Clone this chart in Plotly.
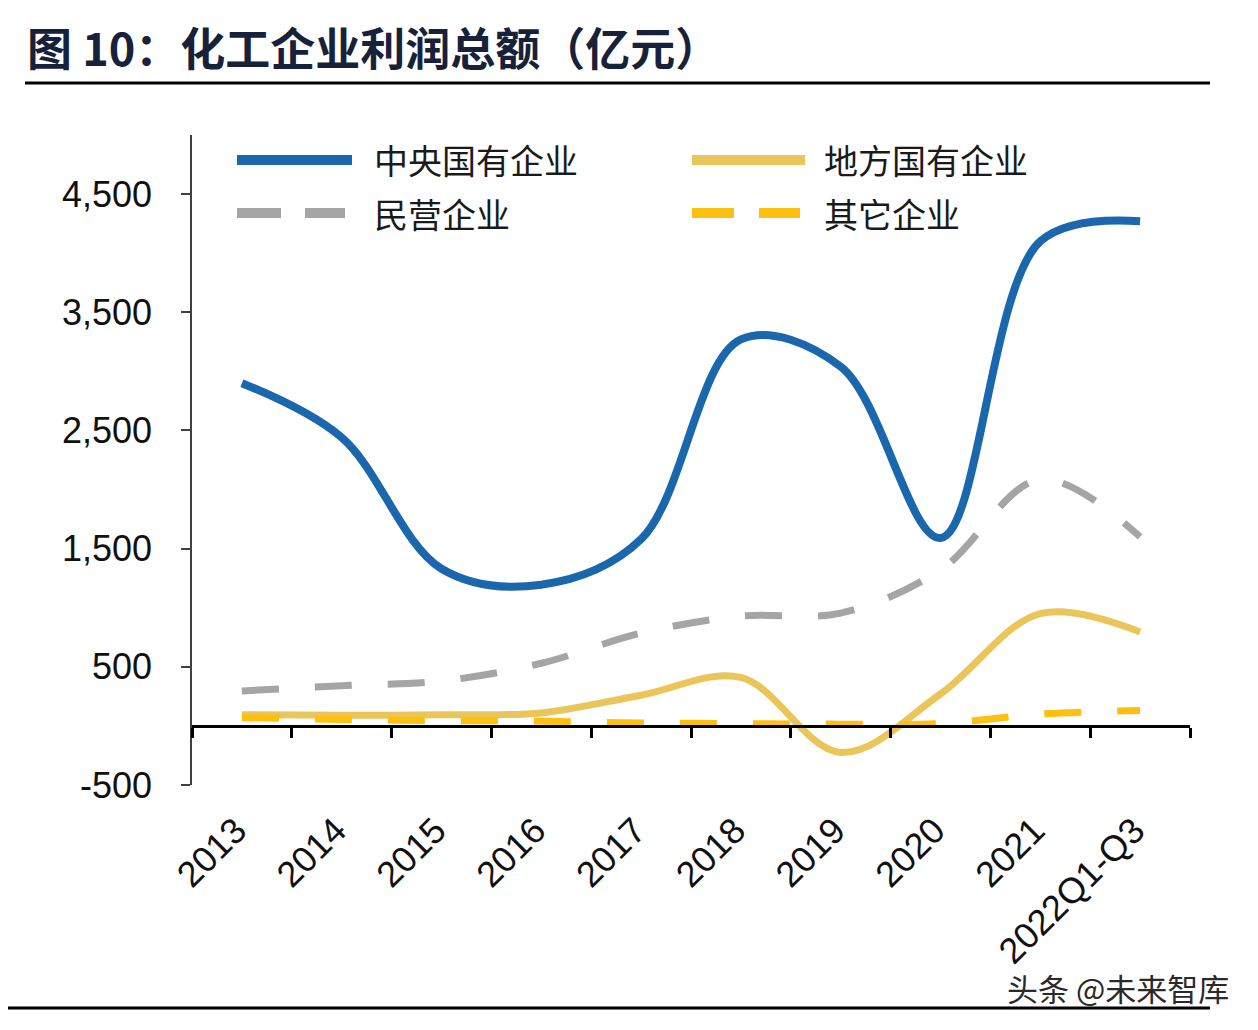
import plotly.graph_objects as go

# ---------------- data ----------------
categories = ["2013", "2014", "2015", "2016", "2017", "2018", "2019", "2020", "2021", "2022Q1-Q3"]
central_soe = [2900, 2440, 1330, 1195, 1580, 3270, 3040, 1590, 4100, 4270]
local_soe = [95, 90, 95, 110, 260, 410, -225, 270, 950, 795]
private_ent = [296, 340, 380, 530, 785, 930, 955, 1320, 2085, 1600]
other_ent = [70, 55, 45, 40, 25, 20, 15, 20, 100, 130]

series_names = ["中央国有企业", "地方国有企业", "民营企业", "其它企业"]
y_tick_values = [-500, 500, 1500, 2500, 3500, 4500]
y_tick_labels = ["-500", "500", "1,500", "2,500", "3,500", "4,500"]
title_text = "图 10：化工企业利润总额（亿元）"
watermark_text = "头条 @未来智库"

# ---------------- geometry helpers ----------------
# page body adds an 8px margin; figure is sized so reference pixel coords line up
OFF = 8
FIG_W, FIG_H = 1242, 1014
L, R, T, B = 192, 1190, 135, 785   # plot area in reference pixel coords


def px(xp):
    return (xp - L) / (R - L)


def py(yp):
    return (B - yp) / (B - T)


BLUE = "#1B67AD"
LOCAL = "#EAC65A"
GRAY = "#A5A5A5"
GOLD = "#FDC010"
CJK = "Noto Sans CJK SC"

fig = go.Figure()
fig.add_trace(go.Scatter(x=categories, y=central_soe, name=series_names[0], mode="lines",
                         line=dict(color=BLUE, width=8, shape="spline", smoothing=1.0)))
fig.add_trace(go.Scatter(x=categories, y=local_soe, name=series_names[1], mode="lines",
                         line=dict(color=LOCAL, width=7, shape="spline", smoothing=1.0)))
fig.add_trace(go.Scatter(x=categories, y=private_ent, name=series_names[2], mode="lines",
                         line=dict(color=GRAY, width=7, shape="spline", smoothing=1.0, dash="37px,36px")))
fig.add_trace(go.Scatter(x=categories, y=other_ent, name=series_names[3], mode="lines",
                         xaxis="x2",
                         line=dict(color=GOLD, width=7, shape="spline", smoothing=1.0, dash="37px,36px")))

fig.update_layout(
    width=FIG_W, height=FIG_H, autosize=False,
    paper_bgcolor="white", plot_bgcolor="white",
    margin=dict(l=L - OFF, r=OFF + FIG_W - R, t=T - OFF, b=OFF + FIG_H - B, pad=0),
    showlegend=False,
    xaxis=dict(type="category", range=[-0.5, 9.5], showline=False, ticks="",
               showgrid=False, zeroline=False, tickangle=-45,
               tickfont=dict(family="Liberation Sans", size=36, color="#111"),
               ticklabelstandoff=16, ticklabelshift=-6),
    xaxis2=dict(type="category", overlaying="x", anchor="free",
                position=(0 - (-500)) / (5000 - (-500)), range=[-0.5, 9.5],
                tickson="boundaries", ticks="outside", ticklen=10, tickwidth=2.5,
                tickcolor="#000", showline=True, linecolor="#000", linewidth=2.5,
                showticklabels=False, showgrid=False, zeroline=False),
    yaxis=dict(range=[-500, 5000], tickmode="array", tickvals=y_tick_values,
               ticktext=y_tick_labels, ticks="outside", ticklen=9, tickwidth=1.5,
               tickcolor="#404040", showline=True, linecolor="#404040", linewidth=1.5,
               showgrid=False, zeroline=False,
               tickfont=dict(family="Liberation Sans", size=36, color="#111"),
               ticklabelstandoff=22),
)

shapes = []
annotations = []

# title and rules
annotations.append(dict(xref="paper", yref="paper", x=px(25), y=py(46), xanchor="left", yanchor="middle",
                        text="<b>" + title_text + "</b>", showarrow=False,
                        font=dict(family=CJK, size=45, color="#17223A")))
shapes.append(dict(type="line", xref="paper", yref="paper", x0=px(25), x1=px(1210), y0=py(83), y1=py(83),
                   line=dict(color="#000", width=3)))
shapes.append(dict(type="line", xref="paper", yref="paper", x0=px(OFF), x1=px(1210), y0=py(1008), y1=py(1008),
                   line=dict(color="#000", width=3)))
annotations.append(dict(xref="paper", yref="paper", x=px(1231), y=py(988), xanchor="right", yanchor="middle",
                        text=watermark_text, showarrow=False,
                        font=dict(family=CJK, size=31, color="#2a2a2a")))

# manual legend
legend_items = [
    (series_names[0], BLUE, None, 237, 352, 160, 372),
    (series_names[1], LOCAL, None, 692, 805, 160, 822),
    (series_names[2], GRAY, "44px,24px", 237, 345, 213, 372),
    (series_names[3], GOLD, "42px,25px", 692, 800, 213, 822),
]
for name, color, dash, x0, x1, yy, tx in legend_items:
    ln = dict(color=color, width=10)
    if dash:
        ln["dash"] = dash
    shapes.append(dict(type="line", xref="paper", yref="paper", x0=px(x0), x1=px(x1), y0=py(yy), y1=py(yy),
                       line=ln))
    annotations.append(dict(xref="paper", yref="paper", x=px(tx), y=py(yy), xanchor="left", yanchor="middle",
                            text=name, showarrow=False,
                            font=dict(family=CJK, size=34, color="#1a1a1a")))

fig.update_layout(shapes=shapes, annotations=annotations)
fig.write_html("out.html")
